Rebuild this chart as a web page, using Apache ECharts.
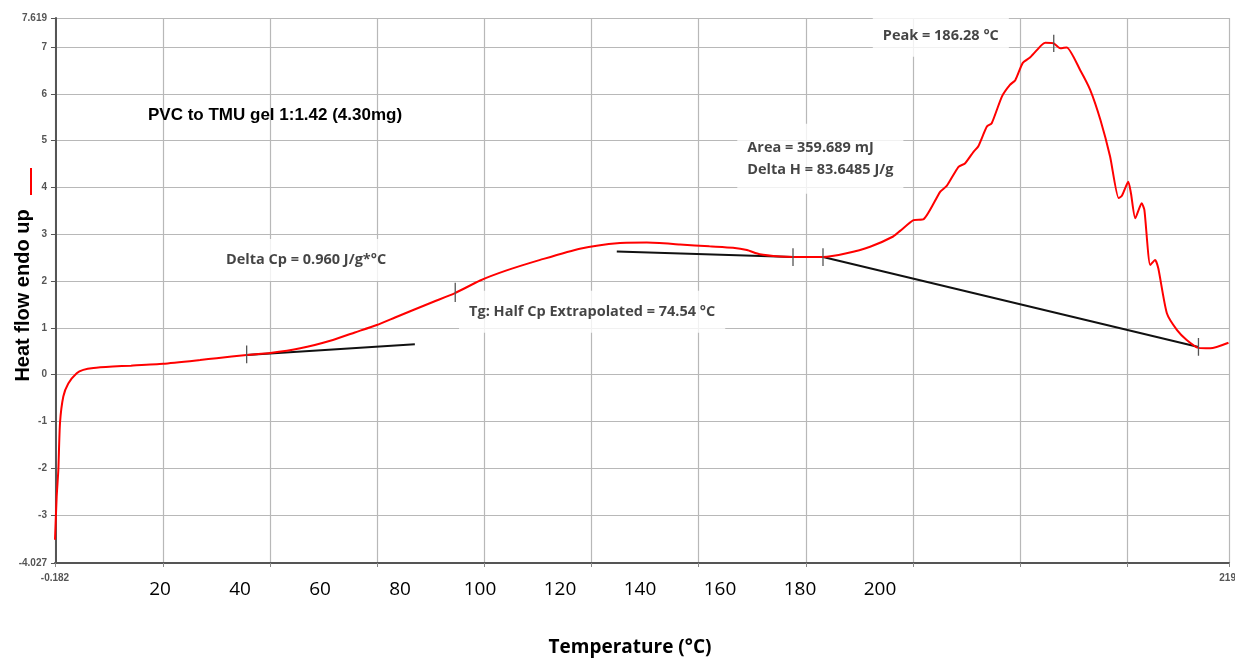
<!DOCTYPE html>
<html>
<head>
<meta charset="utf-8">
<style>
html,body{margin:0;padding:0;background:#fff;}
#chart{width:1235px;height:659px;}
</style>
<script src="https://cdn.jsdelivr.net/npm/echarts@6/dist/echarts.min.js"></script>
</head>
<body>
<div id="chart"></div>
<script>
// ---- data ----
const temps = [-0.182, 0.13, 0.44, 0.75, 1.37, 2.30, 3.87, 5.1, 7.0, 10.6, 14.0, 20.0, 26.9, 30.0, 35.6, 40.0, 45.6, 51.7, 55.8, 59.9, 63.3, 66.7, 70.6, 74.5, 79.2, 84.0, 90.4, 97.8, 105.3, 110.3, 116.5, 122.0, 126.4, 129.0, 131.4, 135.2, 137.6, 140.4, 143.2, 147.6, 152.0, 156.3, 157.6, 160.1, 162.0, 165.1, 166.3, 168.5, 169.7, 171.3, 172.2, 173.8, 174.7, 176.6, 178.1, 179.1, 180.5, 181.9, 184.0, 184.7, 186.2, 187.5, 188.7, 191.2, 193.1, 195.0, 196.8, 198.4, 199.0, 200.2, 200.7, 201.5, 202.7, 203.2, 204.3, 205.2, 205.8, 207.4, 209.3, 211.1, 213.3, 215.5, 218.9];
const heatFlow = [-3.53, -2.61, -2.04, -1.04, -0.47, -0.19, 0.03, 0.10, 0.14, 0.17, 0.19, 0.23, 0.31, 0.35, 0.42, 0.46, 0.56, 0.74, 0.90, 1.06, 1.22, 1.38, 1.56, 1.74, 2.01, 2.22, 2.45, 2.69, 2.81, 2.82, 2.78, 2.74, 2.71, 2.66, 2.57, 2.52, 2.51, 2.51, 2.51, 2.59, 2.73, 2.95, 3.07, 3.30, 3.32, 3.91, 4.03, 4.44, 4.51, 4.76, 4.88, 5.30, 5.37, 5.94, 6.19, 6.29, 6.66, 6.78, 7.04, 7.09, 7.08, 6.97, 6.99, 6.51, 6.08, 5.44, 4.66, 3.77, 3.82, 4.12, 3.87, 3.34, 3.66, 3.52, 2.34, 2.45, 2.27, 1.31, 0.95, 0.74, 0.57, 0.56, 0.68];

// baselines (black construction lines)
const baselineStartT  = [35.6, 104.7, 143.2];
const baselineStartHF = [0.42, 2.63, 2.51];
const baselineEndT    = [67.0, 137.6, 213.3];
const baselineEndHF   = [0.65, 2.51, 0.59];

// short vertical marker ticks
const markerT    = [35.6, 74.54, 137.6, 143.2, 186.28, 213.3];
const markerLow  = [0.24, 1.55, 2.32, 2.32, 6.89, 0.40];
const markerHigh = [0.62, 1.96, 2.70, 2.70, 7.26, 0.78];

// annotations
const annotationT    = [46.7, 100.1, 127.2, 165.2];
const annotationHF   = [2.45, 1.34, 4.61, 7.24];
const annotationText = [
  'Delta Cp = 0.960 J/g*°C',
  'Tg: Half Cp Extrapolated = 74.54 °C',
  'Area = 359.689 mJ\nDelta H = 83.6485 J/g',
  'Peak = 186.28 °C'
];

// axis ticks
const xMin = -0.182, xMax = 219;
const yMin = -4.027, yMax = 7.619;
const xGridTicks = [-0.182, 20, 40, 60, 80, 100, 120, 140, 160, 180, 200, 219];
const xEdgeLabels = [-0.182, 219];
const yTicks = [-4.027, -3, -2, -1, 0, 1, 2, 3, 4, 5, 6, 7, 7.619];
const bigXLabels = [20, 40, 60, 80, 100, 120, 140, 160, 180, 200];
const bigXMin = -6.25, bigXMax = 287.25;

const chart = echarts.init(document.getElementById('chart'));

const series = [];
series.push({
  name: 'Heat flow',
  type: 'line',
  data: temps.map((t, i) => [t, heatFlow[i]]),
  showSymbol: false,
  smooth: 0.2,
  lineStyle: { color: '#ff0000', width: 2 },
  itemStyle: { color: '#ff0000' },
  z: 4,
  silent: true
});
baselineStartT.forEach((t, i) => {
  series.push({
    type: 'line',
    data: [[t, baselineStartHF[i]], [baselineEndT[i], baselineEndHF[i]]],
    showSymbol: false,
    lineStyle: { color: '#111', width: 2 },
    z: 3,
    silent: true
  });
});
markerT.forEach((t, i) => {
  series.push({
    type: 'line',
    data: [[t, markerLow[i]], [t, markerHigh[i]]],
    showSymbol: false,
    lineStyle: { color: '#555', width: 1.3 },
    z: 5,
    silent: true
  });
});
series.push({
  type: 'scatter',
  symbolSize: 0,
  z: 1,
  silent: true,
  data: annotationT.map((t, i) => ({
    value: [t, annotationHF[i]],
    label: i === 2 ? { align: 'left', padding: [13, 10, 13, 10] } : {}
  })),
  label: {
    show: true,
    position: 'inside',
    formatter: p => annotationText[p.dataIndex],
    fontFamily: 'Open Sans',
    fontWeight: 'bold',
    fontSize: 14.5,
    lineHeight: 22,
    color: '#151515',
    backgroundColor: '#ffffff',
    padding: [10, 10]
  }
});

const option = {
  animation: false,
  backgroundColor: '#ffffff',
  title: {
    text: 'PVC to TMU gel 1:1.42 (4.30mg)',
    left: 148, top: 107, padding: 0,
    textStyle: { fontFamily: 'Liberation Sans', fontWeight: 'bold', fontSize: 17, color: '#000' }
  },
  legend: {
    data: [{ name: 'Heat flow', icon: 'rect' }],
    left: 30, top: 168, padding: 0,
    itemWidth: 2, itemHeight: 27,
    formatter: () => '',
    selectedMode: false
  },
  grid: { left: 55, right: 6, top: 18, bottom: 96, containLabel: false, outerBoundsMode: 'none' },
  xAxis: [
    {
      type: 'value', min: xMin, max: xMax, position: 'bottom',
      axisLine: { show: true, onZero: false, lineStyle: { color: '#555', width: 2 } },
      axisTick: { show: true, length: 4, customValues: xGridTicks, lineStyle: { color: '#888' } },
      axisLabel: {
        customValues: xEdgeLabels,
        formatter: v => (v === xMax ? '219.' : String(v)),
        fontFamily: 'Liberation Sans', fontWeight: 'bold', fontSize: 10, color: '#555', margin: 10
      },
      splitLine: { show: true, lineStyle: { color: '#b8b8b8', width: 1.2 } }
    },
    {
      type: 'value', min: bigXMin, max: bigXMax, position: 'bottom',
      axisLine: { show: false, onZero: false }, axisTick: { show: false }, splitLine: { show: false },
      axisLabel: {
        customValues: bigXLabels,
        fontFamily: 'Open Sans', fontSize: 19, color: '#000', margin: 17
      },
      name: 'Temperature (°C)', nameLocation: 'middle', nameGap: 75, nameMoveOverlap: false,
      nameTextStyle: { fontFamily: 'Open Sans', fontWeight: 'bold', fontSize: 19, color: '#000', padding: [0, 24, 0, 0] }
    }
  ],
  yAxis: {
    type: 'value', min: yMin, max: yMax,
    axisLine: { show: true, lineStyle: { color: '#555', width: 2 } },
    axisTick: { show: true, length: 5, customValues: yTicks, lineStyle: { color: '#555' } },
    axisLabel: {
      customValues: yTicks,
      formatter: v => String(v),
      fontFamily: 'Liberation Sans', fontWeight: 'bold', fontSize: 10, color: '#555', margin: 8
    },
    splitLine: { show: true, lineStyle: { color: '#b8b8b8', width: 1.2 } },
    name: 'Heat flow endo up', nameLocation: 'middle', nameGap: 22, nameRotate: 90, nameMoveOverlap: false,
    nameTextStyle: { fontFamily: 'Liberation Sans', fontWeight: 'bold', fontSize: 20, color: '#000', padding: [0, 10, 0, 0] }
  },
  series: series
};
chart.setOption(option);
</script>
</body>
</html>
